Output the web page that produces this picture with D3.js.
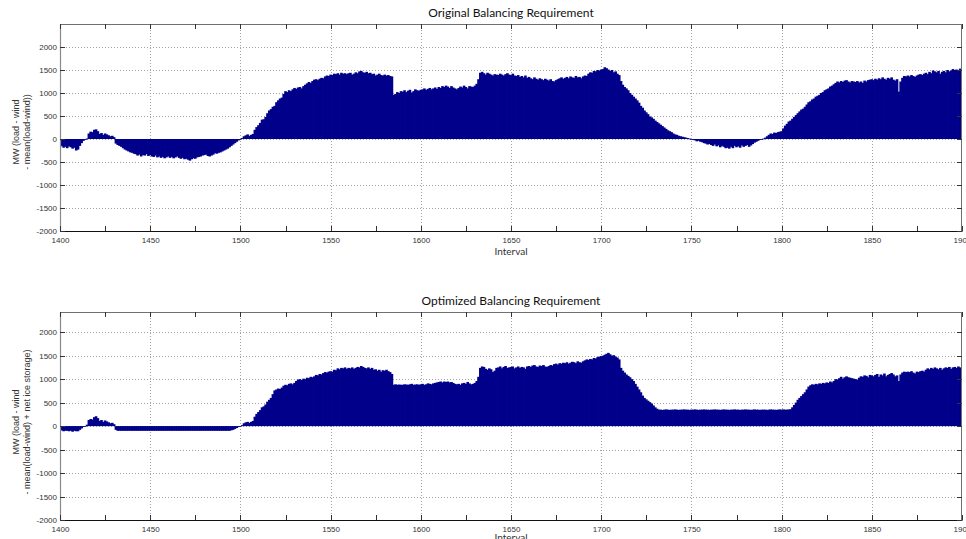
<!DOCTYPE html>
<html>
<head>
<meta charset="utf-8">
<script src="https://cdn.jsdelivr.net/npm/d3@7/dist/d3.min.js"></script>
<style>
  html, body { margin: 0; padding: 0; background: #fff; }
  svg { display: block; }
</style>
</head>
<body>
<svg id="chart" width="966" height="539"></svg>
<script>
// Interval range shown on the x axis
const firstInterval = 1400;
const lastInterval = 1900;

// x tick labels and y tick labels (MW)
const xTickLabels = [1400, 1450, 1500, 1550, 1600, 1650, 1700, 1750, 1800, 1850, 1900];
const yTickLabels = [-2000, -1500, -1000, -500, 0, 500, 1000, 1500, 2000];

// Original balancing requirement, MW, intervals 1400..1900
const originalBalancing = [
  -180,-150,-190,-170,-200,-160,-180,-210,-190,-250,
  -230,-150,-90,-40,-20,10,120,160,150,200,
  210,170,110,130,90,120,100,80,60,70,
  40,-100,-130,-150,-170,-200,-230,-250,-270,-290,
  -300,-320,-330,-360,-340,-380,-350,-360,-330,-370,
  -350,-380,-390,-360,-400,-380,-410,-390,-420,-400,
  -380,-410,-390,-420,-400,-380,-410,-430,-410,-440,
  -430,-450,-470,-440,-420,-430,-400,-390,-380,-360,
  -350,-340,-370,-380,-360,-340,-310,-320,-300,-290,
  -270,-250,-230,-210,-180,-150,-120,-90,-60,-30,
  0,20,60,80,100,70,90,110,200,260,
  300,350,420,430,480,560,620,650,700,720,
  800,840,880,900,980,1040,1020,1060,1040,1080,
  1110,1090,1120,1130,1100,1150,1180,1210,1240,1220,
  1260,1290,1300,1280,1310,1330,1320,1360,1380,1370,
  1400,1390,1420,1410,1430,1400,1440,1420,1430,1410,
  1430,1440,1400,1420,1450,1430,1470,1480,1450,1440,
  1460,1430,1440,1410,1420,1380,1400,1420,1390,1380,
  1400,1380,1390,1370,1360,960,980,1020,1000,1040,
  1030,1060,1020,1050,1070,1010,1040,1080,1060,1050,
  1070,1080,1100,1070,1090,1110,1080,1100,1120,1090,
  1130,1110,1150,1130,1160,1140,1110,1150,1120,1100,
  1080,1110,1140,1120,1160,1130,1100,1150,1140,1130,
  1160,1200,1300,1440,1460,1430,1400,1440,1420,1400,
  1380,1410,1400,1390,1420,1400,1380,1410,1430,1400,
  1390,1420,1380,1370,1390,1350,1370,1340,1380,1330,
  1350,1320,1300,1340,1310,1290,1320,1300,1280,1310,
  1290,1270,1300,1260,1250,1280,1300,1320,1340,1310,
  1330,1350,1320,1360,1340,1330,1370,1340,1350,1320,
  1360,1380,1370,1420,1450,1440,1480,1470,1500,1490,
  1510,1520,1560,1540,1510,1480,1500,1450,1470,1420,
  1390,1260,1180,1130,1100,1060,1000,960,920,880,
  840,790,720,680,620,580,540,490,470,440,
  400,370,340,310,280,250,220,190,170,150,
  120,100,90,70,60,50,40,30,20,10,
  -10,-20,-30,-50,-40,-60,-70,-90,-100,-120,
  -110,-130,-150,-120,-160,-140,-180,-150,-170,-200,
  -190,-210,-170,-200,-150,-180,-160,-190,-140,-170,
  -150,-130,-170,-140,-110,-80,-60,-40,-20,0,
  10,30,60,90,120,110,140,130,150,160,
  170,230,290,330,380,400,440,480,520,560,
  600,640,660,700,750,800,820,860,880,920,
  940,960,1000,1020,1060,1080,1100,1140,1160,1190,
  1220,1250,1230,1260,1240,1270,1280,1250,1230,1260,
  1250,1240,1260,1230,1250,1220,1270,1250,1280,1290,
  1300,1280,1310,1290,1320,1300,1340,1310,1290,1330,
  1310,1340,1290,1270,1300,1030,1250,1330,1370,1360,
  1380,1360,1390,1370,1350,1380,1400,1410,1390,1420,
  1440,1410,1460,1430,1490,1470,1450,1480,1420,1460,
  1480,1450,1500,1470,1490,1520,1500,1510,1480,1530,
  1510
];

// Optimized balancing requirement (with net ice storage), MW, intervals 1400..1900
const optimizedBalancing = [
  -100,-90,-110,-100,-100,-110,-100,-120,-100,-110,
  -110,-80,-50,-20,0,30,130,150,140,190,
  210,170,110,130,90,120,100,80,60,70,
  40,-80,-100,-100,-100,-100,-100,-100,-100,-100,
  -100,-100,-100,-100,-100,-100,-100,-100,-100,-100,
  -100,-100,-100,-100,-100,-100,-100,-100,-100,-100,
  -100,-100,-100,-100,-100,-100,-100,-100,-100,-100,
  -100,-100,-100,-100,-100,-100,-100,-100,-100,-100,
  -100,-100,-100,-100,-100,-100,-100,-100,-100,-100,
  -100,-100,-100,-100,-100,-90,-80,-60,-40,-20,
  0,20,60,80,90,70,90,110,200,260,
  300,340,400,420,460,520,560,600,680,760,
  780,800,790,820,860,880,870,900,910,890,
  920,960,990,1000,980,1010,1000,1030,1020,1050,
  1040,1060,1090,1080,1110,1100,1130,1150,1140,1160,
  1170,1160,1200,1190,1230,1210,1240,1230,1250,1220,
  1240,1230,1250,1220,1240,1260,1250,1280,1260,1240,
  1230,1250,1220,1240,1200,1210,1180,1200,1160,1190,
  1180,1200,1170,1150,1110,880,890,880,885,880,
  880,890,885,880,890,900,880,885,890,880,
  890,900,880,890,910,900,890,910,920,930,
  940,950,930,950,940,950,930,940,920,900,
  890,900,880,910,920,900,940,910,890,900,
  920,960,1050,1240,1270,1260,1220,1200,1230,1210,
  1150,1180,1240,1250,1270,1230,1260,1280,1240,1250,
  1260,1270,1230,1250,1270,1240,1260,1250,1220,1270,
  1280,1260,1290,1300,1270,1260,1290,1280,1300,1270,
  1260,1280,1300,1290,1320,1330,1310,1340,1330,1350,
  1340,1360,1330,1350,1370,1360,1340,1380,1360,1350,
  1380,1400,1420,1410,1430,1420,1450,1440,1470,1480,
  1490,1500,1520,1540,1560,1530,1500,1510,1480,1460,
  1420,1240,1180,1140,1100,1070,1040,1000,960,900,
  840,780,720,650,600,570,540,510,480,440,
  400,370,350,350,345,350,355,350,345,350,
  350,355,350,345,350,350,355,350,350,345,
  350,350,355,350,345,350,350,355,350,350,
  345,350,350,355,350,350,345,350,355,350,
  350,345,350,350,355,350,350,345,350,350,
  355,350,350,345,350,355,350,350,345,350,
  350,350,345,350,355,350,350,345,350,355,
  350,355,350,350,355,360,400,450,500,560,
  600,640,680,720,780,840,870,890,880,900,
  890,910,900,920,910,930,920,950,930,960,
  1000,990,1020,1050,1010,1040,1060,1040,1030,1020,
  1010,1000,990,1030,1060,1050,1080,1070,1040,1090,
  1080,1060,1090,1110,1050,1100,1080,1120,1060,1090,
  1110,1130,1100,1060,1080,960,1100,1140,1160,1150,
  1160,1150,1170,1140,1120,1160,1150,1170,1180,1160,
  1200,1230,1210,1240,1220,1250,1230,1210,1240,1200,
  1230,1250,1240,1260,1220,1250,1260,1240,1270,1250,
  1230
];

const intervals = d3.range(firstInterval, lastInterval + 1);

const svg = d3.select("#chart");
const barColor = "#00008b";
const tickFont = "'Liberation Sans', Arial, sans-serif";
const titleFont = "Lato, 'Open Sans', sans-serif";

function drawPanel(opts) {
  const { values, top, bottom, left, right, yMax, title, titleY, labelLines, labelY, xLabelY, clipId } = opts;

  const x = d3.scaleLinear().domain([firstInterval, lastInterval]).range([left, right]);
  const y = d3.scaleLinear().domain([-2000, yMax]).range([bottom, top]);

  const g = svg.append("g");

  g.append("clipPath").attr("id", clipId)
    .append("rect").attr("x", left).attr("y", top).attr("width", right - left).attr("height", bottom - top);

  // dotted grid
  const grid = g.append("g").attr("stroke", "#8a8a8a").attr("stroke-width", 0.8).attr("stroke-dasharray", "1,2");
  grid.selectAll("line.gy").data(yTickLabels.filter(v => v > -2000)).join("line")
    .attr("x1", left).attr("x2", right)
    .attr("y1", d => Math.round(y(d)) + 0.5).attr("y2", d => Math.round(y(d)) + 0.5);
  grid.selectAll("line.gx").data(xTickLabels.filter(v => v > firstInterval && v < lastInterval)).join("line")
    .attr("y1", top).attr("y2", bottom)
    .attr("x1", d => Math.round(x(d)) + 0.5).attr("x2", d => Math.round(x(d)) + 0.5);

  // bars, one per interval; each is widened slightly so neighbours overlap without seams
  g.append("g").attr("clip-path", `url(#${clipId})`)
    .selectAll("rect").data(intervals).join("rect")
    .attr("x", (d) => x(d - 0.5) - 0.4)
    .attr("width", (d) => x(d + 0.5) - x(d - 0.5) + 0.8)
    .attr("y", (d, i) => Math.min(y(values[i]), y(0)))
    .attr("height", (d, i) => Math.max(0.8, Math.abs(y(values[i]) - y(0))))
    .attr("fill", barColor);

  // axes box
  const box = g.append("g");
  box.append("rect").attr("x", left + 0.5).attr("y", top + 0.5)
    .attr("width", right - left - 1).attr("height", bottom - top)
    .attr("fill", "none").attr("stroke", "#707070").attr("stroke-width", 1);

  // bottom and left axes via d3-axis
  const xTicks = d3.range(firstInterval, lastInterval + 1, 25);
  const xAxis = d3.axisBottom(x).tickValues(xTicks).tickSize(0).tickPadding(6)
    .tickFormat(d => (d % 50 === 0 ? String(d) : ""));
  const xa = g.append("g").attr("transform", `translate(0,${bottom})`).call(xAxis);
  xa.select(".domain").attr("stroke", "#111").attr("stroke-width", 1.2);
  xa.selectAll("text").attr("font-family", tickFont).attr("font-size", 8).attr("fill", "#333");

  const yAxis = d3.axisLeft(y).tickValues(yTickLabels).tickSize(0).tickPadding(3)
    .tickFormat(d => String(d));
  const ya = g.append("g").attr("transform", `translate(${left},0)`).call(yAxis);
  ya.select(".domain").attr("stroke", "#8a8a8a").attr("stroke-width", 1.2);
  ya.selectAll("text").attr("font-family", tickFont).attr("font-size", 8).attr("fill", "#333");

  // inward tick marks on all four sides
  const tk = g.append("g").attr("stroke", "#333").attr("stroke-width", 1).attr("shape-rendering", "crispEdges");
  xTicks.forEach(v => {
    const px = Math.round(x(v)) + 0.5;
    tk.append("line").attr("x1", px).attr("x2", px).attr("y1", bottom).attr("y2", bottom - 5);
    tk.append("line").attr("x1", px).attr("x2", px).attr("y1", top).attr("y2", top + 5);
  });
  yTickLabels.forEach(v => {
    const py = Math.round(y(v)) + 0.5;
    tk.append("line").attr("x1", left).attr("x2", left + 5).attr("y1", py).attr("y2", py);
    tk.append("line").attr("x1", right).attr("x2", right - 5).attr("y1", py).attr("y2", py);
  });

  // titles and labels
  svg.append("text").attr("x", (left + right) / 2).attr("y", titleY)
    .attr("text-anchor", "middle").attr("font-family", titleFont).attr("font-size", 12)
    .attr("fill", "#111").text(title);

  svg.append("text").attr("x", (left + right) / 2).attr("y", xLabelY)
    .attr("text-anchor", "middle").attr("font-family", titleFont).attr("font-size", 10)
    .attr("fill", "#333").text("Interval");

  const yl = svg.append("text")
    .attr("transform", `translate(19,${labelY}) rotate(-90)`)
    .attr("text-anchor", "middle").attr("font-family", tickFont).attr("font-size", 9).attr("fill", "#333");
  labelLines.forEach((t, i) => {
    yl.append("tspan").attr("x", 0).attr("dy", i === 0 ? 0 : 11).text(t);
  });
}

drawPanel({
  values: originalBalancing,
  top: 24, bottom: 231, left: 60, right: 962, yMax: 2500,
  title: "Original Balancing Requirement", titleY: 17,
  labelLines: ["MW (load - wind", "- mean(load-wind))"], labelY: 132,
  xLabelY: 255, clipId: "clipTop"
});

drawPanel({
  values: optimizedBalancing,
  top: 312, bottom: 520, left: 60, right: 962, yMax: 2430,
  title: "Optimized Balancing Requirement", titleY: 305,
  labelLines: ["MW (load - wind", "- mean(load-wind) + net ice storage)"], labelY: 422,
  xLabelY: 541, clipId: "clipBottom"
});
</script>
</body>
</html>
